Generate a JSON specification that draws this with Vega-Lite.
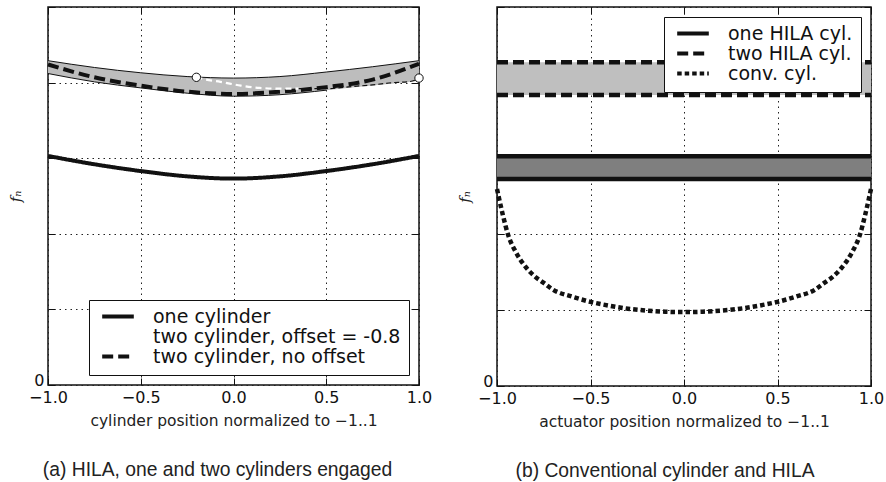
{
  "$schema": "https://vega.github.io/schema/vega-lite/v6.json",
  "background": "white",
  "padding": {"left": 8, "top": 5, "right": 0, "bottom": 0},
  "spacing": 24,
  "resolve": {
    "scale": {"color": "independent", "strokeDash": "independent", "x": "independent", "y": "independent"},
    "legend": {"color": "independent", "strokeDash": "independent"}
  },
  "config": {
    "view": {"stroke": "#111", "strokeWidth": 1.5},
    "axis": {
      "domain": false,
      "gridColor": "#222",
      "gridDash": [1.5, 4],
      "gridWidth": 1,
      "tickColor": "#111",
      "tickWidth": 1,
      "tickSize": -7,
      "labelFont": "DejaVu Sans",
      "labelFontSize": 16,
      "labelColor": "#111",
      "labelPadding": 11,
      "labelFlush": false,
      "titleFont": "DejaVu Sans",
      "titleFontSize": 15.5,
      "titleFontWeight": "normal",
      "titleColor": "#222"
    },
    "legend": {
      "symbolType": "stroke",
      "symbolStrokeWidth": 4,
      "symbolSize": 1000,
      "symbolStrokeColor": "#111",
      "symbolOffset": 3,
      "labelFont": "DejaVu Sans",
      "labelFontSize": 19,
      "labelColor": "#111",
      "labelLimit": 0,
      "labelOffset": 17,
      "strokeColor": "#111",
      "fillColor": "white",
      "padding": 8,
      "clipHeight": 17,
      "rowPadding": 0,
      "offset": 10,
      "cornerRadius": 0
    }
  },
  "datasets": {
    "bandA": [
      {"x": -1, "upper": 4.29, "lower": 4.12},
      {"x": -0.75, "upper": 4.2, "lower": 4.01},
      {"x": -0.5, "upper": 4.13, "lower": 3.93},
      {"x": -0.25, "upper": 4.08, "lower": 3.86},
      {"x": 0, "upper": 4.06, "lower": 3.82},
      {"x": 0.25, "upper": 4.08, "lower": 3.84},
      {"x": 0.5, "upper": 4.14, "lower": 3.9},
      {"x": 0.75, "upper": 4.21, "lower": 3.96},
      {"x": 1, "upper": 4.29, "lower": 4.02}
    ],
    "linesA": [
      {"series": "one cylinder", "x": -1, "y": 3.03},
      {"series": "one cylinder", "x": -0.75, "y": 2.92},
      {"series": "one cylinder", "x": -0.5, "y": 2.83},
      {"series": "one cylinder", "x": -0.25, "y": 2.76},
      {"series": "one cylinder", "x": 0, "y": 2.73},
      {"series": "one cylinder", "x": 0.25, "y": 2.76},
      {"series": "one cylinder", "x": 0.5, "y": 2.83},
      {"series": "one cylinder", "x": 0.75, "y": 2.92},
      {"series": "one cylinder", "x": 1, "y": 3.03},
      {"series": "two cylinder, no offset", "x": -1, "y": 4.24},
      {"series": "two cylinder, no offset", "x": -0.75, "y": 4.07},
      {"series": "two cylinder, no offset", "x": -0.5, "y": 3.96},
      {"series": "two cylinder, no offset", "x": -0.25, "y": 3.88},
      {"series": "two cylinder, no offset", "x": 0, "y": 3.85},
      {"series": "two cylinder, no offset", "x": 0.25, "y": 3.88},
      {"series": "two cylinder, no offset", "x": 0.5, "y": 3.94},
      {"series": "two cylinder, no offset", "x": 0.75, "y": 4.04},
      {"series": "two cylinder, no offset", "x": 1, "y": 4.25}
    ],
    "offsetA": [
      {"series": "two cylinder, offset = -0.8", "x": -0.2, "y": 4.07},
      {"series": "two cylinder, offset = -0.8", "x": -0.15, "y": 4.04},
      {"series": "two cylinder, offset = -0.8", "x": -0.07, "y": 4.01},
      {"series": "two cylinder, offset = -0.8", "x": 0.04, "y": 3.96},
      {"series": "two cylinder, offset = -0.8", "x": 0.14, "y": 3.93},
      {"series": "two cylinder, offset = -0.8", "x": 0.25, "y": 3.92},
      {"series": "two cylinder, offset = -0.8", "x": 0.35, "y": 3.92}
    ],
    "tailA": [
      {"x": 0.35, "y": 3.92},
      {"x": 0.5, "y": 3.92},
      {"x": 0.65, "y": 3.95},
      {"x": 0.75, "y": 3.97},
      {"x": 0.86, "y": 4.0},
      {"x": 0.94, "y": 4.01},
      {"x": 1, "y": 4.05}
    ],
    "pointsA": [
      {"x": -0.2, "y": 4.07},
      {"x": 1, "y": 4.06}
    ],
    "bandB": [
      {"x": -1, "u2": 4.27, "l2": 3.84, "u1": 3.03, "l1": 2.73},
      {"x": 1, "u2": 4.27, "l2": 3.84, "u1": 3.03, "l1": 2.73}
    ],
    "linesB": [
      {"series": "one HILA cyl.", "part": "top", "x": -1, "y": 3.03},
      {"series": "one HILA cyl.", "part": "top", "x": 1, "y": 3.03},
      {"series": "one HILA cyl.", "part": "bottom", "x": -1, "y": 2.73},
      {"series": "one HILA cyl.", "part": "bottom", "x": 1, "y": 2.73},
      {"series": "two HILA cyl.", "part": "top", "x": -1, "y": 4.27},
      {"series": "two HILA cyl.", "part": "top", "x": 1, "y": 4.27},
      {"series": "two HILA cyl.", "part": "bottom", "x": -1, "y": 3.84},
      {"series": "two HILA cyl.", "part": "bottom", "x": 1, "y": 3.84},
      {"series": "conv. cyl.", "part": "curve", "x": -1, "y": 2.6},
      {"series": "conv. cyl.", "part": "curve", "x": -0.97, "y": 2.27},
      {"series": "conv. cyl.", "part": "curve", "x": -0.94, "y": 1.99},
      {"series": "conv. cyl.", "part": "curve", "x": -0.9, "y": 1.77},
      {"series": "conv. cyl.", "part": "curve", "x": -0.85, "y": 1.58},
      {"series": "conv. cyl.", "part": "curve", "x": -0.8, "y": 1.45},
      {"series": "conv. cyl.", "part": "curve", "x": -0.75, "y": 1.36},
      {"series": "conv. cyl.", "part": "curve", "x": -0.7, "y": 1.27},
      {"series": "conv. cyl.", "part": "curve", "x": -0.6, "y": 1.18},
      {"series": "conv. cyl.", "part": "curve", "x": -0.5, "y": 1.11},
      {"series": "conv. cyl.", "part": "curve", "x": -0.4, "y": 1.06},
      {"series": "conv. cyl.", "part": "curve", "x": -0.3, "y": 1.02},
      {"series": "conv. cyl.", "part": "curve", "x": -0.2, "y": 0.995},
      {"series": "conv. cyl.", "part": "curve", "x": -0.1, "y": 0.98},
      {"series": "conv. cyl.", "part": "curve", "x": 0, "y": 0.975},
      {"series": "conv. cyl.", "part": "curve", "x": 0.1, "y": 0.98},
      {"series": "conv. cyl.", "part": "curve", "x": 0.2, "y": 0.995},
      {"series": "conv. cyl.", "part": "curve", "x": 0.3, "y": 1.02},
      {"series": "conv. cyl.", "part": "curve", "x": 0.4, "y": 1.06},
      {"series": "conv. cyl.", "part": "curve", "x": 0.5, "y": 1.11},
      {"series": "conv. cyl.", "part": "curve", "x": 0.6, "y": 1.18},
      {"series": "conv. cyl.", "part": "curve", "x": 0.7, "y": 1.27},
      {"series": "conv. cyl.", "part": "curve", "x": 0.75, "y": 1.36},
      {"series": "conv. cyl.", "part": "curve", "x": 0.8, "y": 1.45},
      {"series": "conv. cyl.", "part": "curve", "x": 0.85, "y": 1.58},
      {"series": "conv. cyl.", "part": "curve", "x": 0.9, "y": 1.77},
      {"series": "conv. cyl.", "part": "curve", "x": 0.94, "y": 1.99},
      {"series": "conv. cyl.", "part": "curve", "x": 0.97, "y": 2.27},
      {"series": "conv. cyl.", "part": "curve", "x": 1, "y": 2.6}
    ]
  },
  "hconcat": [
    {
      "width": 371,
      "height": 378,
      "title": {"text": "(a)  HILA, one and two cylinders engaged", "orient": "bottom", "frame": "group", "anchor": "middle", "dx": -16, "offset": 32, "font": "Liberation Sans", "fontSize": 19.3, "fontWeight": "normal", "color": "#222"},
      "resolve": {"axis": {"x": "independent", "y": "independent"}},
      "layer": [
        {
          "data": {"name": "bandA"},
          "mark": {"type": "area", "color": "#bdbdbd", "interpolate": "monotone"},
          "encoding": {
            "x": {"field": "x", "type": "quantitative", "scale": {"domain": [-1, 1], "nice": false, "zero": false}, "axis": {"orient": "top", "labels": false, "grid": false, "title": null, "values": [-1, -0.5, 0, 0.5, 1]}},
            "y": {"field": "upper", "type": "quantitative", "scale": {"domain": [0, 5], "nice": false}, "axis": {"orient": "right", "labels": false, "grid": false, "title": null, "values": [0, 1, 2, 3, 4, 5]}},
            "y2": {"field": "lower"}
          }
        },
        {
          "data": {"name": "bandA"},
          "mark": {"type": "line", "color": "#111", "strokeWidth": 1, "interpolate": "monotone"},
          "encoding": {
            "x": {"field": "x", "type": "quantitative", "axis": null},
            "y": {"field": "upper", "type": "quantitative", "axis": null}
          }
        },
        {
          "data": {"name": "bandA"},
          "transform": [{"filter": "datum.x <= 0.5"}],
          "mark": {"type": "line", "color": "#111", "strokeWidth": 1, "interpolate": "monotone"},
          "encoding": {
            "x": {"field": "x", "type": "quantitative", "axis": null},
            "y": {"field": "lower", "type": "quantitative", "axis": null}
          }
        },
        {
          "data": {"name": "tailA"},
          "mark": {"type": "line", "color": "#111", "strokeWidth": 1.2, "strokeDash": [5, 3], "interpolate": "monotone"},
          "encoding": {
            "x": {"field": "x", "type": "quantitative", "axis": null},
            "y": {"field": "y", "type": "quantitative", "axis": null}
          }
        },
        {
          "data": {"name": "linesA"},
          "mark": {"type": "line", "strokeWidth": 4, "interpolate": "monotone"},
          "encoding": {
            "x": {"field": "x", "type": "quantitative", "axis": {"orient": "bottom", "grid": true, "values": [-1, -0.5, 0, 0.5, 1], "format": ".1f", "title": "cylinder position normalized to −1..1", "titlePadding": 8}},
            "y": {"field": "y", "type": "quantitative", "axis": {"orient": "left", "grid": true, "values": [0, 1, 2, 3, 4, 5], "labelPadding": 11, "labelOffset": -5, "labelExpr": "datum.value == 0 ? '0' : ''", "title": "fₙ", "titleFont": "DejaVu Serif", "titleFontStyle": "italic", "titleFontSize": 15, "titlePadding": 10}},
            "color": {"field": "series", "type": "nominal", "scale": {"domain": ["one cylinder", "two cylinder, offset = -0.8", "two cylinder, no offset"], "range": ["#111111", "#ffffff", "#111111"]}, "legend": {"title": null, "orient": "bottom-right"}},
            "strokeDash": {"field": "series", "type": "nominal", "scale": {"domain": ["one cylinder", "two cylinder, offset = -0.8", "two cylinder, no offset"], "range": [[1, 0], [6, 4], [11, 5]]}, "legend": {"title": null, "orient": "bottom-right"}}
          }
        },
        {
          "data": {"name": "offsetA"},
          "mark": {"type": "line", "color": "#ffffff", "strokeWidth": 2.2, "strokeDash": [6, 4], "interpolate": "monotone"},
          "encoding": {
            "x": {"field": "x", "type": "quantitative", "axis": null},
            "y": {"field": "y", "type": "quantitative", "axis": null}
          }
        },
        {
          "data": {"name": "pointsA"},
          "mark": {"type": "point", "filled": true, "fill": "white", "stroke": "#111", "strokeWidth": 1, "size": 70, "opacity": 1},
          "encoding": {
            "x": {"field": "x", "type": "quantitative", "axis": null},
            "y": {"field": "y", "type": "quantitative", "axis": null}
          }
        }
      ]
    },
    {
      "width": 374,
      "height": 379,
      "title": {"text": "(b)  Conventional cylinder and HILA", "orient": "bottom", "frame": "group", "anchor": "middle", "dx": -19, "offset": 32, "font": "Liberation Sans", "fontSize": 19.3, "fontWeight": "normal", "color": "#222"},
      "resolve": {"axis": {"x": "independent", "y": "independent"}},
      "layer": [
        {
          "data": {"name": "bandB"},
          "mark": {"type": "area", "color": "#bfbfbf"},
          "encoding": {
            "x": {"field": "x", "type": "quantitative", "scale": {"domain": [-1, 1], "nice": false, "zero": false}, "axis": {"orient": "top", "labels": false, "grid": false, "title": null, "values": [-1, -0.5, 0, 0.5, 1]}},
            "y": {"field": "u2", "type": "quantitative", "scale": {"domain": [0, 5], "nice": false}, "axis": {"orient": "right", "labels": false, "grid": false, "title": null, "values": [0, 1, 2, 3, 4, 5]}},
            "y2": {"field": "l2"}
          }
        },
        {
          "data": {"name": "bandB"},
          "mark": {"type": "area", "color": "#7f7f7f"},
          "encoding": {
            "x": {"field": "x", "type": "quantitative", "axis": null},
            "y": {"field": "u1", "type": "quantitative", "axis": null},
            "y2": {"field": "l1"}
          }
        },
        {
          "data": {"name": "linesB"},
          "mark": {"type": "line", "color": "#111", "strokeWidth": 4.5, "interpolate": "monotone"},
          "encoding": {
            "x": {"field": "x", "type": "quantitative", "axis": {"orient": "bottom", "grid": true, "values": [-1, -0.5, 0, 0.5, 1], "format": ".1f", "title": "actuator position normalized to −1..1", "titlePadding": 8}},
            "y": {"field": "y", "type": "quantitative", "axis": {"orient": "left", "grid": true, "values": [0, 1, 2, 3, 4, 5], "labelPadding": 11, "labelOffset": -5, "labelExpr": "datum.value == 0 ? '0' : ''", "title": "fₙ", "titleFont": "DejaVu Serif", "titleFontStyle": "italic", "titleFontSize": 15, "titlePadding": 10}},
            "detail": {"field": "part", "type": "nominal"},
            "strokeDash": {"field": "series", "type": "nominal", "scale": {"domain": ["one HILA cyl.", "two HILA cyl.", "conv. cyl."], "range": [[1, 0], [11, 5], [4.5, 3]]}, "legend": {"title": null, "orient": "top-right"}}
          }
        }
      ]
    }
  ]
}
